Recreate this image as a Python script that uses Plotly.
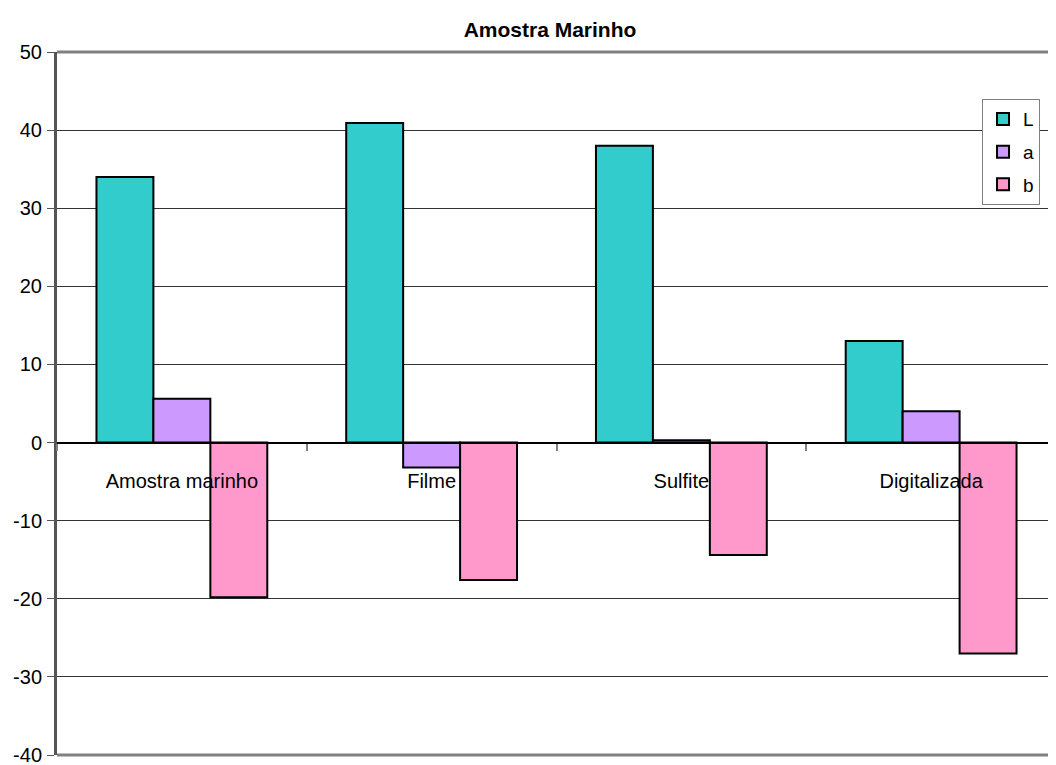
import plotly.graph_objects as go

categories = ["Amostra marinho", "Filme", "Sulfite", "Digitalizada"]
L_values = [34.0, 40.9, 38.0, 13.0]
a_values = [5.6, -3.2, 0.3, 4.0]
b_values = [-19.8, -17.6, -14.4, -27.0]
y_ticks = [50, 40, 30, 20, 10, 0, -10, -20, -30, -40]

series = [("L", L_values, "#33CCCC"), ("a", a_values, "#CC99FF"), ("b", b_values, "#FF99CC")]

fig = go.Figure()
for name, vals, col in series:
    fig.add_trace(go.Bar(
        x=categories, y=vals, name=name, legendgroup=name,
        marker=dict(color=col, line=dict(color="black", width=2)),
    ))

font = "Liberation Sans, Arial, sans-serif"
ymin, ymax = -40, 50
zero_pos = (0 - ymin) / (ymax - ymin)

W, H = 1048, 757  # page body has an 8px margin

fig.update_layout(
    width=W, height=H,
    margin=dict(l=49, r=0, t=44, b=10, autoexpand=False),
    paper_bgcolor="white", plot_bgcolor="white",
    barmode="group", bargap=0.316, bargroupgap=0,
    font=dict(family=font, size=20, color="black"),
    title=dict(text="<b>Amostra Marinho</b>", x=542 / W, xanchor="center",
               y=1 - 22 / H, yanchor="middle",
               font=dict(family=font, size=21, color="black")),
    showlegend=True,
    legend=dict(x=0.984, xanchor="right", y=0.933, yanchor="top",
                bgcolor="white", bordercolor="#808080", borderwidth=1,
                font=dict(family=font, size=19), tracegroupgap=5,
                itemwidth=30, traceorder="grouped"),
    xaxis=dict(
        anchor="free", position=zero_pos, automargin=False,
        showline=True, linecolor="black", linewidth=2,
        ticks="outside", tickson="boundaries", ticklen=7, tickcolor="#808080", tickwidth=2,
        ticklabelstandoff=20, showgrid=False, zeroline=False,
        tickfont=dict(family=font, size=20),
    ),
    yaxis=dict(
        range=[ymin, ymax], tickvals=y_ticks, ticktext=[str(v) for v in y_ticks],
        automargin=False, ticklabeloverflow="allow",
        showgrid=True, gridcolor="#333333", gridwidth=1,
        zeroline=False,
        showline=True, linecolor="#555555", linewidth=3,
        ticks="outside", ticklen=7, tickcolor="#555555", tickwidth=1,
        ticklabelstandoff=1,
        tickfont=dict(family=font, size=20),
    ),
    shapes=[
        dict(type="line", xref="paper", yref="paper", x0=0, x1=1, y0=1, y1=1,
             line=dict(color="#808080", width=3), layer="above"),
        dict(type="line", xref="paper", yref="paper", x0=0, x1=1, y0=0, y1=0,
             line=dict(color="#808080", width=3), layer="above"),
    ],
)

fig.write_html("out.html")
